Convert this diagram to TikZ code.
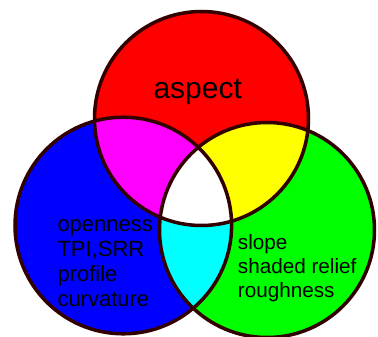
\documentclass[tikz,border=0pt]{standalone}
\usepackage{fontspec}
\setmainfont{Liberation Sans}
\definecolor{rim}{RGB}{51,0,0}
\definecolor{vred}{RGB}{255,0,0}
\definecolor{vblue}{RGB}{0,0,255}
\definecolor{vgreen}{RGB}{0,255,0}
\definecolor{vmagenta}{RGB}{255,0,255}
\definecolor{vyellow}{RGB}{255,255,0}
\definecolor{vcyan}{RGB}{0,255,255}
\begin{document}
\begin{tikzpicture}[x=1pt, y=-1pt, rim/.style={draw=rim, line width=3.5pt}, lbl/.style={anchor=base west, align=left, inner sep=0pt}]
            \useasboundingbox (0,0) rectangle (378,337);
            \coordinate (r) at (201.5,118.5); \coordinate (b) at (123.3,225.5); \coordinate (g) at (267,230);
            \fill[vred] (r) circle[radius=107];
            \fill[vblue] (b) circle[radius=108.3];
            \fill[vgreen] (g) circle[radius=107.5];
            \begin{scope}
                \clip (r) circle[radius=107];
                \fill[vmagenta] (b) circle[radius=108.3];
                \fill[vyellow] (g) circle[radius=107.5];
            \end{scope}
            \begin{scope}
                \clip (b) circle[radius=108.3];
                \clip (g) circle[radius=107.5];
                \fill[vcyan] (0,0) rectangle (378,337);
                \clip (r) circle[radius=107];
                \fill[white] (0,0) rectangle (378,337);
            \end{scope}
            \draw[rim] (r) circle[radius=107];
            \draw[rim] (b) circle[radius=108.3];
            \draw[rim] (g) circle[radius=107.5];
            % last baselines of the labels
            \node[lbl, font=\fontsize{30}{36}\selectfont] (asp) at (153.3,98.3) {aspect};
            \node[lbl, font=\fontsize{22}{25}\selectfont] (opn) at (57.3,306.7) {openness\\TPI,SRR\\profile\\curvature};
            \node[lbl, font=\fontsize{20.7}{24}\selectfont] (slp) at (237.7,297.7) {slope\\shaded relief\\roughness};
        \end{tikzpicture}
\end{document}
